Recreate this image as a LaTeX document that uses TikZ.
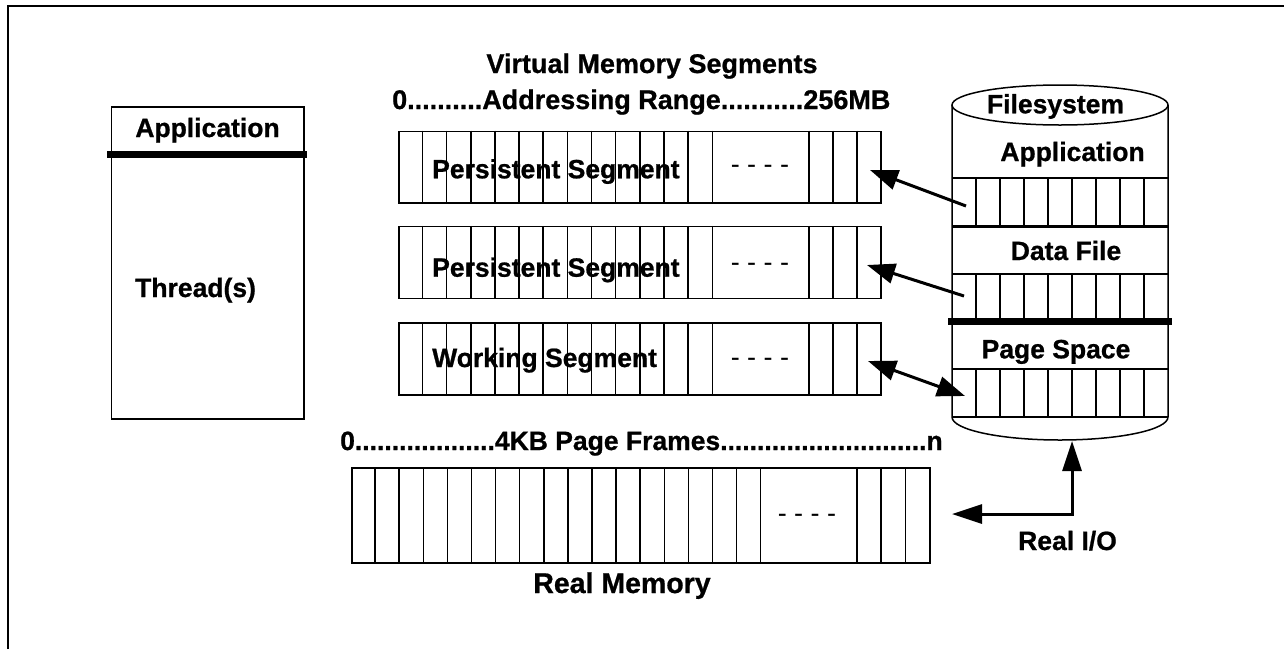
\documentclass[tikz,border=0pt]{standalone}
\usepackage{fontspec}
\setmainfont{Liberation Sans}
\usetikzlibrary{arrows.meta,calc}
\newcommand\heavy{\bfseries\addfontfeature{FakeBold=0.8}}
\begin{document}
\begin{tikzpicture}[x=1pt,y=-1pt,
  thinline/.style={line width=1.5pt},
  lbl/.style={inner sep=0pt,font=\fontsize{26.5}{30}\selectfont\heavy},
  dots/.style={inner sep=0pt,font=\fontsize{27}{30}\selectfont},
  cellbox/.style={draw,thinline,inner sep=0pt,anchor=north west},
  link/.style={line width=3pt,-{Triangle[length=28pt,width=20pt]}},
  twoway/.style={line width=3pt,{Triangle[length=28pt,width=20pt]}-{Triangle[length=28pt,width=20pt]}},
  iolink/.style={line width=3pt,{Triangle[length=30pt,width=19pt]}-{Triangle[length=30pt,width=19pt]}}]
\useasboundingbox (0,0) rectangle (1284,649);

% outer frame (left and top edges)
\draw[line width=2pt] (7.5,649) -- (7.5,6) -- (1284,6);

% application box
\node[draw,thinline,inner sep=0pt,minimum width=192.3pt,minimum height=312pt,anchor=north west] (appbox) at (110.7,106) {};
\coordinate (barL) at (107,154);
\coordinate (barR) at (307,154);
\draw[line width=7pt] (barL) -- (barR);
\node[lbl,anchor=base] (applbl) at (207.5,137) {Application};
\node[lbl,anchor=base west] (thr) at (135,297) {Thread(s)};

% virtual memory segments
\node[lbl,anchor=base,font=\fontsize{27}{30}\selectfont\heavy] (title) at (652,73) {Virtual Memory Segments};
\node[lbl,anchor=base west,font=\fontsize{27}{30}\selectfont\heavy] (addr) at (392,109) {0..........Addressing Range...........256MB};

\foreach \nm/\top in {seg1/130.7, seg2/225.9, seg3/322.3}{
  \node[cellbox,minimum width=481.7pt,minimum height=71.7pt] (\nm) at (398.3,\top) {};
  \foreach \k in {1,...,13,17,18,19}{
    \draw[thinline] ($(\nm.north west)+(\k*24.15,0)$) -- ($(\nm.south west)+(\k*24.15,0)$);
  }
}
\node[lbl,anchor=base west] (p1) at (432,178.3) {Persistent Segment};
\node[lbl,anchor=base west] (p2) at (432,276.7) {Persistent Segment};
\node[lbl,anchor=base west] (w3) at (432,367) {Working Segment};
\node[dots,anchor=base] (d1) at (760,173) {- - - -};
\node[dots,anchor=base] (d2) at (760,271.5) {- - - -};
\node[dots,anchor=base] (d3) at (760,366.5) {- - - -};

% real memory
\node[lbl,anchor=base west] (frames) at (340,450) {0...................4KB Page Frames............................n};
\node[cellbox,minimum width=578.4pt,minimum height=95pt] (rm) at (351,467) {};
\foreach \k in {1,...,17,21,22,23}{
  \draw[thinline] ($(rm.north west)+(\k*24.1,0)$) -- ($(rm.south west)+(\k*24.1,0)$);
}
\node[dots,anchor=base] (d4) at (807,522) {- - - -};
\node[lbl,anchor=base,font=\fontsize{28.5}{32}\selectfont\heavy] (rmlbl) at (622,593) {Real Memory};

% filesystem cylinder
\draw[thinline] (952,105) -- (952,417)
  arc[start angle=180,end angle=360,x radius=108pt,y radius=23pt] -- (1168,105);
\draw[thinline] (1060,105) ellipse [x radius=108pt,y radius=20pt];
\node[lbl,anchor=base] (fs) at (1055.5,113.3) {Filesystem};
\node[lbl,anchor=base] (fsapp) at (1072.5,161) {Application};
\node[lbl,anchor=base] (fsdata) at (1066,260) {Data File};
\node[lbl,anchor=base] (fspage) at (1056,358.3) {Page Space};
% page bands
\foreach \a/\b in {178/226, 274/321, 369/417}{
  \draw[thinline] (952,\a) -- (1168,\a);
  \draw[thinline] (952,\b) -- (1168,\b);
  \foreach \k in {1,...,8}{
    \draw[thinline] (952+\k*24,\a) -- (952+\k*24,\b);
  }
}
\draw[line width=3pt] (952,226) -- (1168,226);
\draw[line width=7pt] (948,321) -- (1172,321);

% connectors
\coordinate (srcA) at (966,206);
\coordinate (dstA) at (870,170);
\coordinate (srcB) at (964,296);
\coordinate (dstB) at (867,265);
\coordinate (endW) at (868,361);
\coordinate (endP) at (965,396);
\draw[link] (srcA) -- (dstA);
\draw[link] (srcB) -- (dstB);
\draw[twoway] (endW) -- (endP);

\coordinate (ioTop) at (1072,441);
\coordinate (ioLeft) at (952,514);
\draw[iolink] (ioLeft) -| (ioTop);
\node[lbl,anchor=base] (io) at (1067.5,550) {Real I/O};
\end{tikzpicture}
\end{document}
